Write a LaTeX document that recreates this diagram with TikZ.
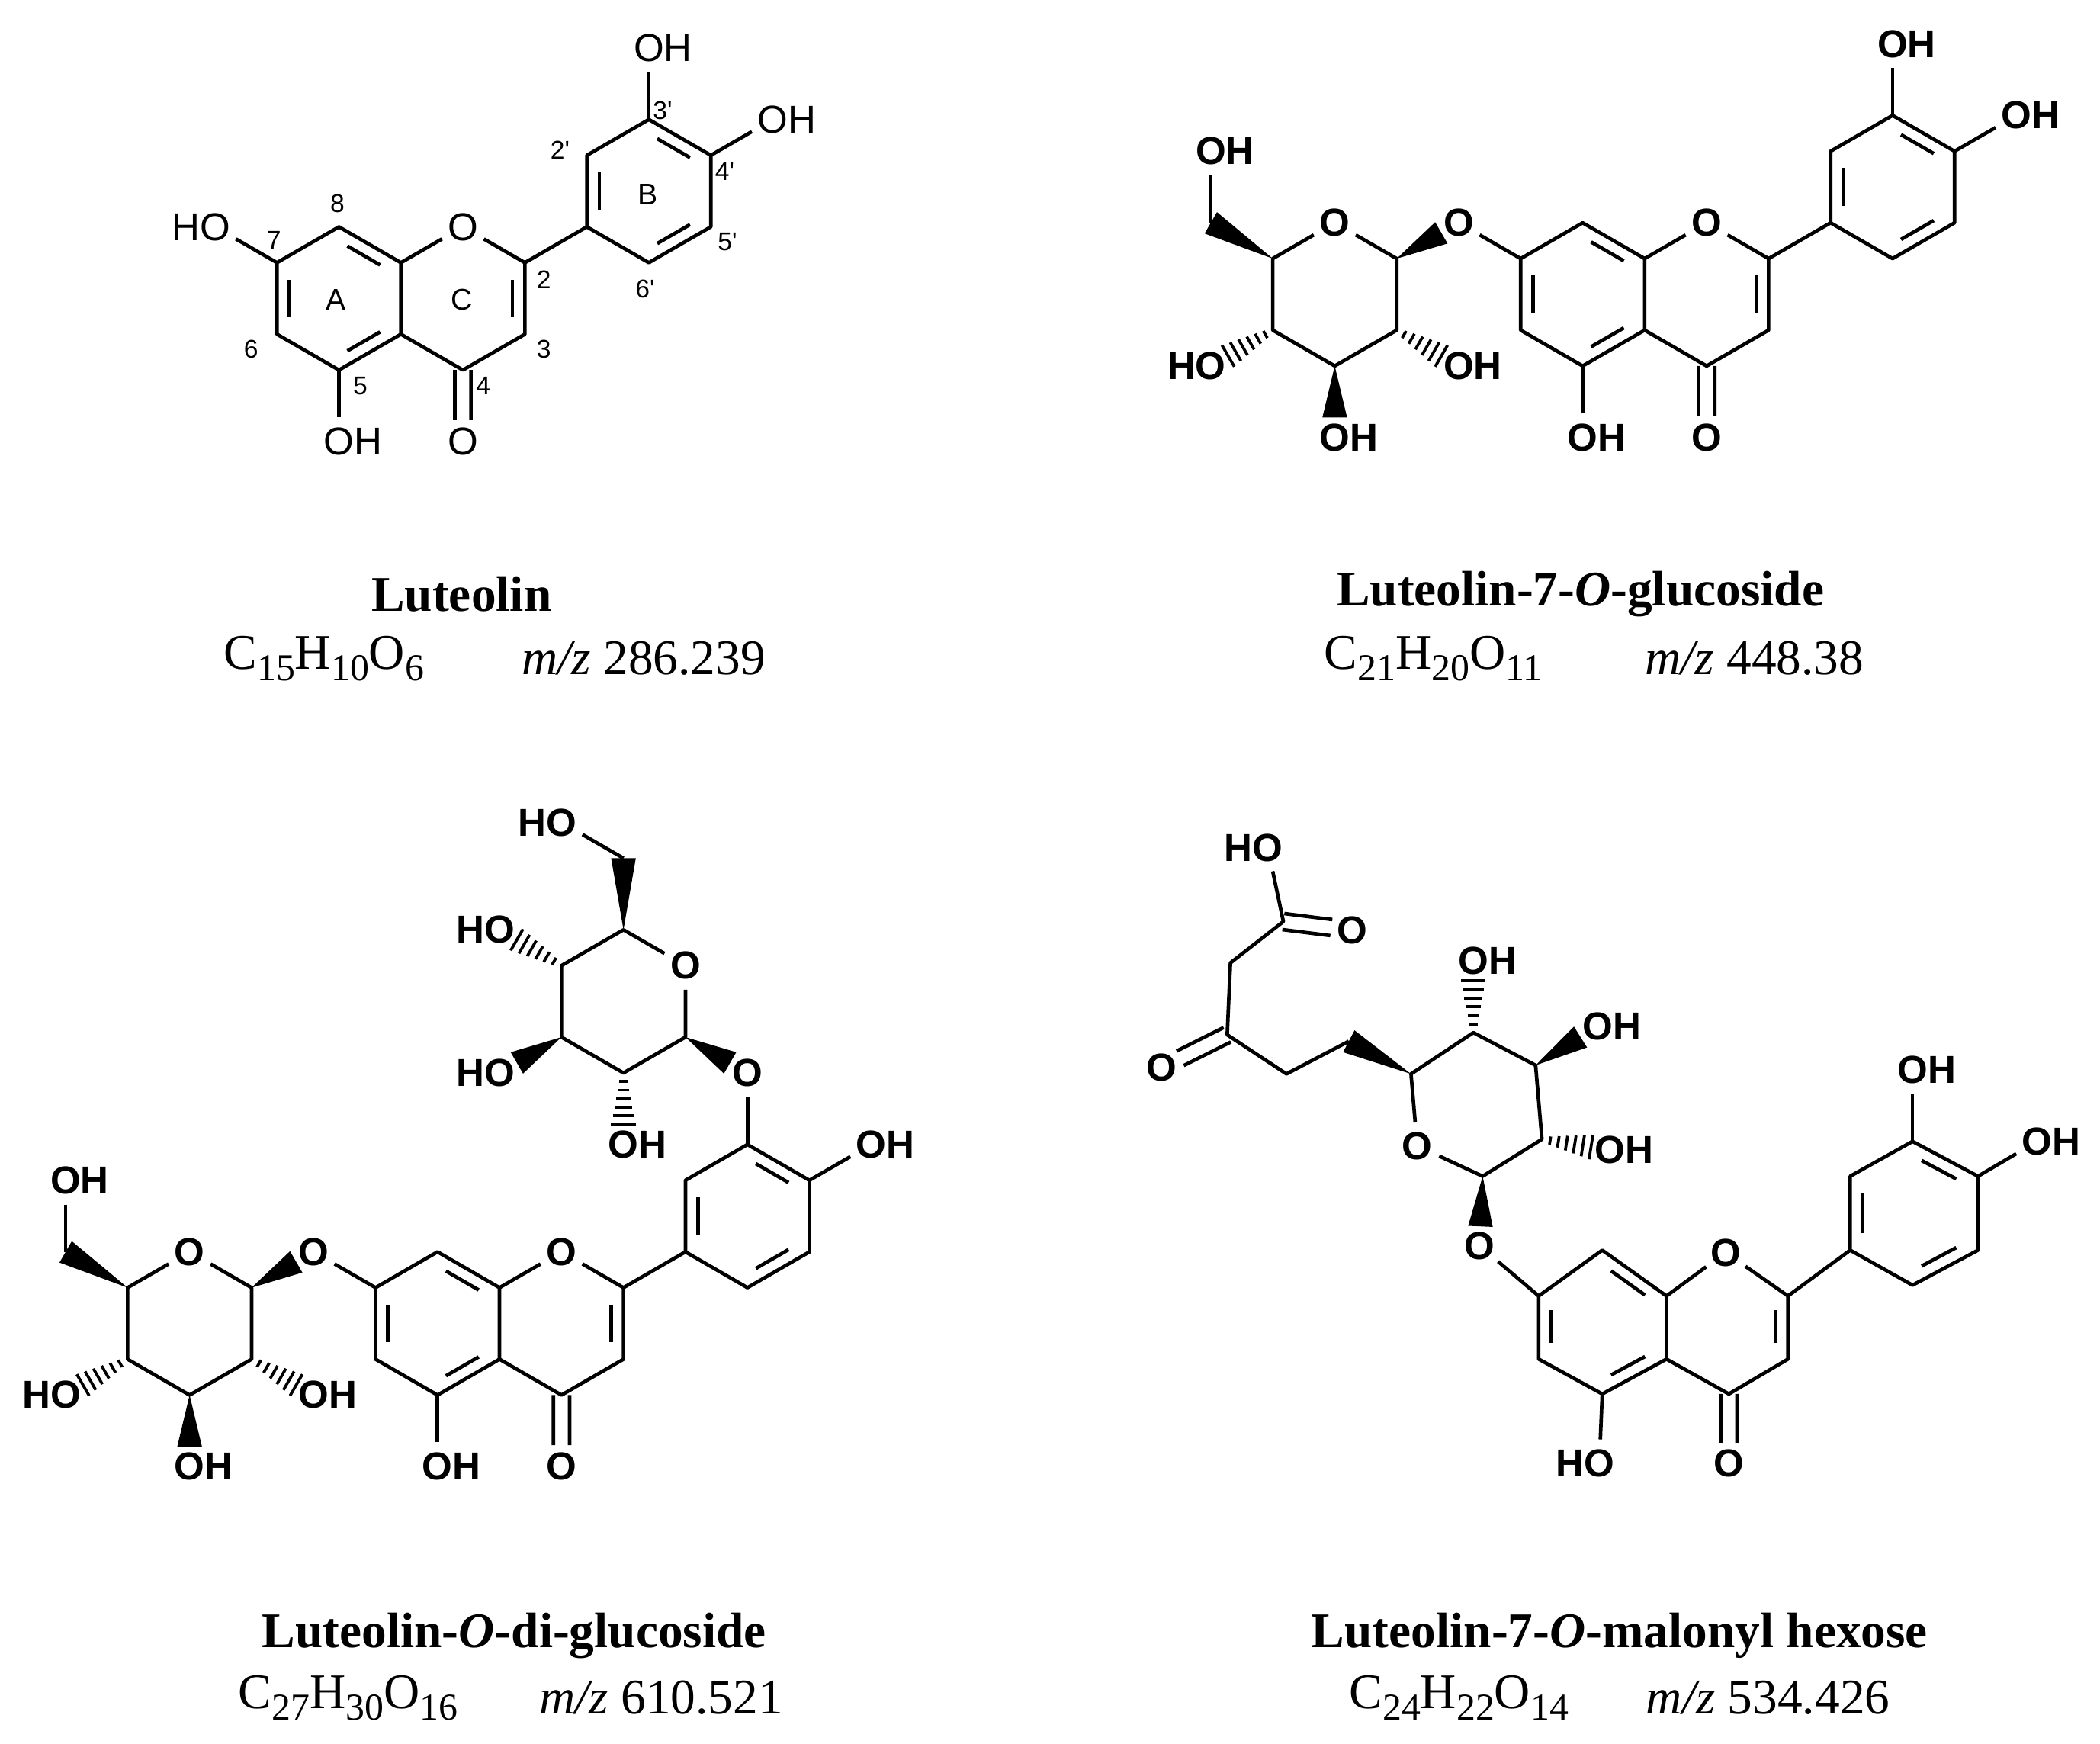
\documentclass[tikz,border=0pt]{standalone}
\usepackage{fontspec}
\setmainfont{Liberation Serif}
\newfontfamily\af{Liberation Sans}
\usetikzlibrary{calc}
\newcommand\sbs[1]{\raisebox{-0.5ex}{\fontsize{8}{9}\selectfont #1}}
\newcommand\dbl[3]{\draw ($(#1)!0.17!(#2)!0.2!(#3)$) -- ($(#2)!0.17!(#1)!0.2!(#3)$);}
\newcommand\cdb[3]{\draw ($(#1)!1.7pt!90:(#2)$) -- ($(#1)!#3!(#2)!1.7pt!-90:(#1)$);
 \draw ($(#1)!1.7pt!-90:(#2)$) -- ($(#1)!#3!(#2)!1.7pt!90:(#1)$);}
\newcommand\wdg[3]{\fill (#1) -- ($(#1)!#3!(#2)!2.6pt!90:(#1)$) -- ($(#1)!#3!(#2)!2.6pt!-90:(#1)$) -- cycle;}
\newcommand\hsh[3]{\foreach \t in {1,...,6}{\pgfmathsetmacro\ff{#3*\t/6}\pgfmathsetlengthmacro\hw{0.5pt+2.1pt*\t/6}%
 \draw[line width=0.6pt] ($(#1)!\ff!(#2)!\hw!90:(#1)$) -- ($(#1)!\ff!(#2)!\hw!-90:(#1)$);}}
% flavone core, local units of one bond, ring A centre at origin
\newcommand\core[2]{%
 \coordinate (#1C8) at (0,-1); \coordinate (#1C8a) at (.866,-.5); \coordinate (#1C4a) at (.866,.5);
 \coordinate (#1C5) at (0,1); \coordinate (#1C6) at (-.866,.5); \coordinate (#1C7) at (-.866,-.5);
 \coordinate (#1C2) at (2.598,-.5); \coordinate (#1C3) at (2.598,.5); \coordinate (#1C4) at (1.732,1);
 \coordinate (#1B1) at (3.464,-1); \coordinate (#1B2) at (3.464,-2); \coordinate (#1B3) at (4.330,-2.5);
 \coordinate (#1B4) at (5.196,-2); \coordinate (#1B5) at (5.196,-1); \coordinate (#1B6) at (4.330,-.5);
 \coordinate (#1cA) at (0,0); \coordinate (#1cC) at (1.732,0); \coordinate (#1cB) at (4.330,-1.5);
 \node[#2] (#1O1) at (1.732,-1) {O};
 \node[#2] (#1O4) at (1.732,2) {O};
 \draw (#1C8)--(#1C8a)--(#1C4a)--(#1C5)--(#1C6)--(#1C7)--cycle;
 \draw (#1C8a)--(#1O1)--(#1C2)--(#1C3)--(#1C4)--(#1C4a);
 \draw (#1C2)--(#1B1);
 \draw (#1B1)--(#1B2)--(#1B3)--(#1B4)--(#1B5)--(#1B6)--cycle;
 \dbl{#1C7}{#1C6}{#1cA}\dbl{#1C8}{#1C8a}{#1cA}\dbl{#1C5}{#1C4a}{#1cA}
 \dbl{#1C2}{#1C3}{#1cC}
 \dbl{#1B1}{#1B2}{#1cB}\dbl{#1B3}{#1B4}{#1cB}\dbl{#1B5}{#1B6}{#1cB}
 \cdb{#1C4}{#1O4}{0.7}
}
% glucose with ring O at top, linked at C1 to #3
\newcommand\glcA[3]{%
 \coordinate (#1C1) at (.866,-.5); \coordinate (#1C2) at (.866,.5); \coordinate (#1C3) at (0,1);
 \coordinate (#1C4) at (-.866,.5); \coordinate (#1C5) at (-.866,-.5); \coordinate (#1C6) at (-1.732,-1);
 \node[#2] (#1O) at (0,-1) {O};
 \node[#2] (#1O6) at (-1.732,-2) {O\rlap{H}};
 \node[#2] (#1O4) at (-1.732,1) {\llap{H}O};
 \node[#2] (#1O2) at (1.732,1) {O\rlap{H}};
 \node[#2] (#1O3) at (0,2) {O\rlap{H}};
 \draw (#1O)--(#1C1)--(#1C2)--(#1C3)--(#1C4)--(#1C5)--(#1O);
 \wdg{#1C5}{#1C6}{1}\draw (#1C6)--(#1O6);
 \hsh{#1C4}{#1O4}{0.72}\hsh{#1C2}{#1O2}{0.72}\wdg{#1C3}{#1O3}{0.72}
 \wdg{#1C1}{#3}{0.72}
}
\tikzset{
 atom/.style={circle,inner sep=0.3pt,font=\af\fontsize{8.2}{9}\selectfont},
 batom/.style={circle,inner sep=0.3pt,font=\af\bfseries\fontsize{8.2}{9}\selectfont},
 loc/.style={inner sep=0pt,font=\af\fontsize{5.4}{6}\selectfont},
 ringl/.style={inner sep=0pt,font=\af\fontsize{6.3}{7}\selectfont},
 title/.style={inner sep=0pt,font=\bfseries\fontsize{10.5}{12}\selectfont},
 form/.style={inner sep=0pt,font=\fontsize{10.5}{12}\selectfont}
}
\begin{document}
\begin{tikzpicture}[x=0.01cm,y=-0.01cm,line width=0.75pt,line join=round]
\useasboundingbox[fill=white] (0,0) rectangle (1556,1292);
% ---------- Luteolin
\begin{scope}[shift={(2.51cm,-2.21cm)},x=0.53cm,y=-0.53cm]
 \core{a}{atom}
 \node[atom] (aO5) at (0,2) {O\rlap{H}}; \draw (aC5)--(aO5);
 \node[atom] (aO7) at (-1.732,-1) {\llap{H}O}; \draw (aC7)--(aO7);
 \node[atom] (aO3p) at (4.330,-3.5) {O\rlap{H}}; \draw (aB3)--(aO3p);
 \node[atom] (aO4p) at (6.062,-2.5) {O\rlap{H}}; \draw (aB4)--(aO4p);
\end{scope}
\node[loc] (l8) at (250,151) {8};
\node[loc] (l7) at (203,178) {7};
\node[loc] (l6) at (186,259) {6};
\node[loc] (l5) at (267,286) {5};
\node[loc] (l4) at (358,286) {4};
\node[loc] (l3) at (403,259) {3};
\node[loc] (l2) at (403,207) {2};
\node[loc] (l2p) at (415,111) {2'};
\node[loc] (l3p) at (491,82) {3'};
\node[loc] (l4p) at (537,127) {4'};
\node[loc] (l5p) at (539,179) {5'};
\node[loc] (l6p) at (478,214) {6'};
\node[ringl] (rA) at (249,222) {A};
\node[ringl] (rC) at (342,222) {C};
\node[ringl] (rB) at (480,144) {B};
\node[title] (t1) at (342,440) {Luteolin};
\node[form] (f1) at (240,488) {C\sbs{15}H\sbs{10}O\sbs{6}};
\node[form] (m1) at (477,488) {\textit{m/z} 286.239};
% ---------- Luteolin-7-O-glucoside
\begin{scope}[shift={(11.72cm,-2.18cm)},x=0.53cm,y=-0.53cm]
 \core{b}{batom}
 \node[batom] (bO5) at (0,2) {O\rlap{H}}; \draw (bC5)--(bO5);
 \node[batom] (bO7) at (-1.732,-1) {O}; \draw (bC7)--(bO7);
 \node[batom] (bO3p) at (4.330,-3.5) {O\rlap{H}}; \draw (bB3)--(bO3p);
 \node[batom] (bO4p) at (6.062,-2.5) {O\rlap{H}}; \draw (bB4)--(bO4p);
 \begin{scope}[shift={(-3.464,0)}]
  \glcA{bg}{batom}{bO7}
 \end{scope}
\end{scope}
\node[title] (t2) at (1171,440) {Luteolin-7-\textit{O}-glucoside};
\node[form] (f2) at (1062,488) {C\sbs{21}H\sbs{20}O\sbs{11}};
\node[form] (m2) at (1300,488) {\textit{m/z} 448.38};
% ---------- Luteolin-O-di-glucoside
\begin{scope}[shift={(3.24cm,-9.80cm)},x=0.53cm,y=-0.53cm]
 \core{c}{batom}
 \node[batom] (cO5) at (0,2) {O\rlap{H}}; \draw (cC5)--(cO5);
 \node[batom] (cO7) at (-1.732,-1) {O}; \draw (cC7)--(cO7);
 \node[batom] (cO3p) at (4.330,-3.5) {O}; \draw (cB3)--(cO3p);
 \node[batom] (cO4p) at (6.062,-2.5) {O\rlap{H}}; \draw (cB4)--(cO4p);
 \begin{scope}[shift={(-3.464,0)}]
  \glcA{cg}{batom}{cO7}
 \end{scope}
 \begin{scope}[shift={(2.598,-4.5)}]
  \coordinate (ehC5) at (0,-1); \coordinate (ehC1) at (.866,.5); \coordinate (ehC2) at (0,1);
  \coordinate (ehC3) at (-.866,.5); \coordinate (ehC4) at (-.866,-.5); \coordinate (ehC6) at (0,-2);
  \node[batom] (ehO) at (.866,-.5) {O};
  \node[batom] (ehO6) at (-.866,-2.5) {\llap{H}O};
  \node[batom] (ehO4) at (-1.732,-1) {\llap{H}O};
  \node[batom] (ehO3) at (-1.732,1) {\llap{H}O};
  \node[batom] (ehO2) at (0,2) {O\rlap{H}};
  \draw (ehO)--(ehC1)--(ehC2)--(ehC3)--(ehC4)--(ehC5)--(ehO);
  \wdg{ehC5}{ehC6}{1}\draw (ehC6)--(ehO6);
  \hsh{ehC4}{ehO4}{0.72}\wdg{ehC3}{ehO3}{0.72}\hsh{ehC2}{ehO2}{0.72}
  \wdg{ehC1}{cO3p}{0.72}
 \end{scope}
\end{scope}
\node[title] (t3) at (381,1212) {Luteolin-\textit{O}-di-glucoside};
\node[form] (f3) at (258,1258) {C\sbs{27}H\sbs{30}O\sbs{16}};
\node[form] (m3) at (490,1258) {\textit{m/z} 610.521};
% ---------- Luteolin-7-O-malonyl hexose (drawn directly)
\coordinate (dC7) at (1140.1,960.2); \coordinate (dC8) at (1187.2,926.3);
\coordinate (dC8a) at (1234.8,960.2); \coordinate (dC4a) at (1234.8,1007.0);
\coordinate (dC5) at (1187.2,1032.8); \coordinate (dC6) at (1140.1,1007.0);
\coordinate (dC2) at (1324.8,960.2); \coordinate (dC3) at (1324.8,1007.0);
\coordinate (dC4) at (1281.0,1032.8);
\coordinate (dB1) at (1370.9,926.3); \coordinate (dB2) at (1370.9,871.5);
\coordinate (dB3) at (1417.1,845.7); \coordinate (dB4) at (1465.6,871.5);
\coordinate (dB5) at (1465.6,926.3); \coordinate (dB6) at (1417.1,952.2);
\coordinate (dcA) at (1187.5,980); \coordinate (dcC) at (1280,980); \coordinate (dcB) at (1418,899);
\node[batom] (dO1) at (1278.6,928) {O};
\node[batom] (dO4) at (1281,1084.4) {O};
\node[batom] (dO5) at (1185,1084.4) {\llap{H}O};
\node[batom] (dO7) at (1096.3,923.1) {O};
\node[batom] (dO3p) at (1417.1,792.5) {O\rlap{H}};
\node[batom] (dO4p) at (1509.4,845.7) {O\rlap{H}};
\draw (dC8)--(dC8a)--(dC4a)--(dC5)--(dC6)--(dC7)--cycle;
\draw (dC8a)--(dO1)--(dC2)--(dC3)--(dC4)--(dC4a);
\draw (dC2)--(dB1);
\draw (dB1)--(dB2)--(dB3)--(dB4)--(dB5)--(dB6)--cycle;
\dbl{dC7}{dC6}{dcA}\dbl{dC8}{dC8a}{dcA}\dbl{dC5}{dC4a}{dcA}
\dbl{dC2}{dC3}{dcC}
\dbl{dB1}{dB2}{dcB}\dbl{dB3}{dB4}{dcB}\dbl{dB5}{dB6}{dcB}
\cdb{dC4}{dO4}{0.7}
\draw (dC5)--(dO5); \draw (dC7)--(dO7); \draw (dB3)--(dO3p); \draw (dB4)--(dO4p);
% hexose
\coordinate (dgC1) at (1098.6,871.5); \coordinate (dgC2) at (1142.5,844.1);
\coordinate (dgC3) at (1137.8,789.3); \coordinate (dgC4) at (1091.7,765.1);
\coordinate (dgC5) at (1045.5,795.7); \coordinate (dgC6) at (999.4,771.5);
\node[batom] (dgO) at (1050.1,849) {O};
\node[batom] (dgO4) at (1091.7,711.8) {O\rlap{H}};
\node[batom] (dgO3) at (1184,760.2) {O\rlap{H}};
\node[batom] (dgO2) at (1193,852.1) {O\rlap{H}};
\draw (dgO)--(dgC1)--(dgC2)--(dgC3)--(dgC4)--(dgC5)--(dgO);
\wdg{dgC1}{dO7}{0.72}
\hsh{dgC4}{dgO4}{0.72}\wdg{dgC3}{dgO3}{0.72}\hsh{dgC2}{dgO2}{0.72}
\wdg{dgC5}{dgC6}{1}
% malonyl chain
\coordinate (dk7) at (953.2,795.7); \coordinate (dk8) at (909.3,766.7);
\coordinate (dk9) at (911.7,713.4); \coordinate (dk10) at (950.9,682.8);
\node[batom] (dkO) at (860.9,790.9) {O};
\node[batom] (daO) at (1001.7,689.2) {O};
\node[batom] (daOH) at (939.3,628) {\llap{H}O};
\draw (dgC6)--(dk7)--(dk8)--(dk9)--(dk10)--(daOH);
\cdb{dk8}{dkO}{0.72}
\cdb{dk10}{daO}{0.7}
\node[title] (t4) at (1200,1212) {Luteolin-7-\textit{O}-malonyl hexose};
\node[form] (f4) at (1081,1258) {C\sbs{24}H\sbs{22}O\sbs{14}};
\node[form] (m4) at (1310,1258) {\textit{m/z} 534.426};
\end{tikzpicture}
\end{document}
